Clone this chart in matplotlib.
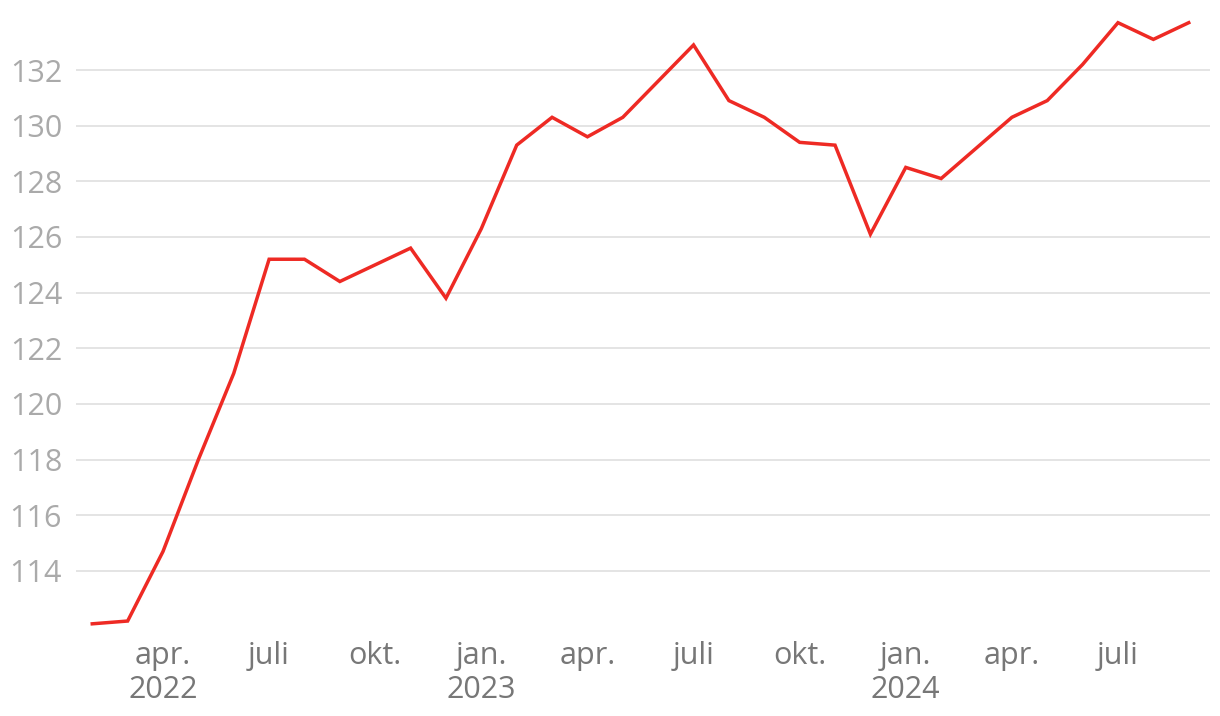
import matplotlib
matplotlib.use("Agg")
import matplotlib.pyplot as plt

# month index: 0 = Jan 2022
months = list(range(1, 33))  # Feb 2022 .. Sep 2024
values = [112.1, 112.2, 114.7, 118.0, 121.1, 125.2, 125.2, 124.4, 125.0, 125.6,
          123.8, 126.3, 129.3, 130.3, 129.6, 130.3, 131.6, 132.9, 130.9, 130.3,
          129.4, 129.3, 126.1, 128.5, 128.1, 129.2, 130.3, 130.9, 132.2, 133.7,
          133.1, 133.7]
xtick_pos = [3, 6, 9, 12, 15, 18, 21, 24, 27, 30]
xtick_labels = ["apr.\n2022", "juli", "okt.", "jan.\n2023", "apr.", "juli", "okt.",
                "jan.\n2024", "apr.", "juli"]
ytick_vals = [114, 116, 118, 120, 122, 124, 126, 128, 130, 132]

plt.rcParams['font.family'] = ['Open Sans', 'DejaVu Sans']

W, H = 1220, 716
fig = plt.figure(figsize=(W / 100, H / 100), dpi=100)
left, right, top, bottom = 76, 1210, 10, 630
ax = fig.add_axes([left / W, 1 - bottom / H, (right - left) / W, (bottom - top) / H])

ax.plot(months, values, color="#ee2a24", linewidth=2.5, solid_joinstyle="miter")

# x scale: Apr 2022 at px 163, 35.37 px / month
ppm = 35.37
ax.set_xlim(3 + (left - 163) / ppm, 3 + (right - 163) / ppm)
# y scale: 132 at px 70, 27.83 px / unit
ppu = 27.83
ax.set_ylim(132 - (bottom - 70) / ppu, 132 - (top - 70) / ppu)

ax.set_yticks(ytick_vals)
ax.set_yticklabels([str(v) for v in ytick_vals])
ax.set_xticks(xtick_pos)
ax.set_xticklabels(xtick_labels, linespacing=1.15)

ax.grid(axis="y", color="#e2e2e2", linewidth=1.3)
ax.set_axisbelow(True)
for s in ax.spines.values():
    s.set_visible(False)
ax.tick_params(axis="y", length=0, pad=10, labelsize=22, labelcolor="#aaaaaa")
ax.tick_params(axis="x", length=0, pad=8, labelsize=22, labelcolor="#777777")

fig.savefig("out.png", dpi=100, facecolor="white")
